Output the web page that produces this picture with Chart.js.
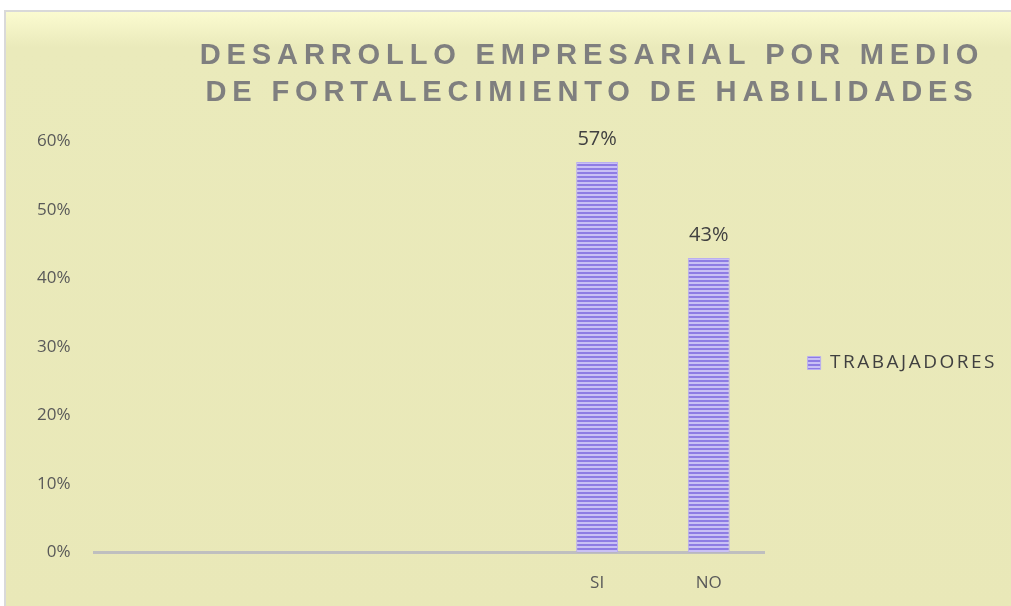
<!DOCTYPE html>
<html>
<head>
<meta charset="utf-8">
<script src="https://cdn.jsdelivr.net/npm/chart.js@4"></script>
<style>
  html, body { margin: 0; padding: 0; background: #ffffff; }
  #frame {
    position: absolute; left: 4px; top: 10px; width: 1020px; height: 610px;
    border: 2px solid #d9d9d9; box-sizing: border-box;
    background: linear-gradient(#fbfbd0 0px, #eaeabb 35px, #e9e8b8 100%);
  }
  #wrap { position: absolute; left: 0; top: 0; width: 1011px; height: 606px; }
</style>
</head>
<body>
<div id="frame"></div>
<div id="wrap"><canvas id="chart-canvas" width="1011" height="606"></canvas></div>
<script>
var categories = ['', '', '', '', 'SI', 'NO']
var trabajadores = [null, null, null, null, 57, 43]
var yTicks = [0, 10, 20, 30, 40, 50, 60]
var titleLines = ['DESARROLLO EMPRESARIAL POR MEDIO', 'DE FORTALECIMIENTO DE HABILIDADES']

// striped fill like the original bars
function make_stripes() {
    var c = document.createElement('canvas')
    c.width = 4
    c.height = 4
    var g = c.getContext('2d')
    g.fillStyle = '#8e7ce4'
    g.fillRect(0, 0, 4, 2)
    g.fillStyle = '#c9c0f5'
    g.fillRect(0, 2, 4, 2)
    return g.createPattern(c, 'repeat')
}

// wrap a layout box draw: letter spacing, horizontal squeeze around a centre, offsets
function wrap_box(box, o) {
    if (!box || box._wrapped) return
    var orig = box.draw
    box.draw = function () {
        var ctx = this.ctx
        var r = this.right
        ctx.save()
        ctx.letterSpacing = o.spacing
        if (o.sx) {
            var cx = (this.left + this.right) / 2
            ctx.translate(o.cx, 0)
            ctx.scale(o.sx, 1)
            ctx.translate(-cx, 0)
        }
        ctx.translate(o.dx || 0, o.dy || 0)
        if (o.extraRight) this.right = r + o.extraRight
        orig.apply(this, arguments)
        this.right = r
        ctx.restore()
    }
    box._wrapped = true
}

var spacedText = {
    id: 'spacedText',
    beforeDraw: function (chart) {
        wrap_box(chart.titleBlock, { spacing: '6px', sx: 0.97, cx: 592 })
        wrap_box(chart.legend, { spacing: '2.5px', dy: 48, extraRight: 60 })
        wrap_box(chart.scales.y, { spacing: '1.5px' })
        wrap_box(chart.scales.x, { spacing: '1px' })
    }
}

// value labels above the bars
var valueLabels = {
    id: 'valueLabels',
    afterDatasetsDraw: function (chart) {
        var ctx = chart.ctx
        var meta = chart.getDatasetMeta(0)
        ctx.save()
        ctx.font = '20px "Open Sans"'
        ctx.fillStyle = '#404040'
        ctx.textAlign = 'center'
        ctx.textBaseline = 'alphabetic'
        meta.data.forEach(function (bar, i) {
            var v = trabajadores[i]
            if (v === null) return
            ctx.fillText(v + '%', bar.x, bar.y - 17)
        })
        ctx.restore()
    }
}

var ctx = document.getElementById('chart-canvas').getContext('2d')
var myChart = new Chart(ctx, {
    type: 'bar',
    data: {
        labels: categories,
        datasets: [{
            label: 'TRABAJADORES',
            data: trabajadores,
            backgroundColor: make_stripes(),
            borderColor: '#b9aef0',
            borderWidth: 1,
            categoryPercentage: 1,
            barPercentage: 0.375
        }]
    },
    options: {
        responsive: false,
        animation: false,
        layout: { padding: { top: 17, left: 13, right: 34, bottom: -7 } },
        plugins: {
            title: {
                display: true,
                text: titleLines,
                color: '#7f7f7f',
                font: { family: '"Liberation Sans"', size: 30, weight: 'bold', lineHeight: 1.24 },
                padding: { top: 20, bottom: 30 }
            },
            legend: {
                position: 'right',
                labels: {
                    color: '#404040',
                    font: { family: '"Open Sans"', size: 19 },
                    boxWidth: 13,
                    boxHeight: 13,
                    padding: 43
                }
            },
            tooltip: { enabled: false }
        },
        scales: {
            x: {
                grid: { display: false, drawTicks: false },
                border: { display: true, color: '#bfbfbf', width: 3 },
                ticks: { color: '#595959', font: { family: '"Open Sans"', size: 17 }, padding: 20 }
            },
            y: {
                min: 0,
                max: 60,
                afterBuildTicks: function (axis) {
                    axis.ticks = yTicks.map(function (v) { return { value: v } })
                },
                grid: { display: false, drawTicks: false },
                border: { display: false },
                ticks: {
                    color: '#595959',
                    font: { family: '"Open Sans"', size: 17 },
                    padding: 24,
                    callback: function (v) { return v + '%' }
                }
            }
        }
    },
    plugins: [spacedText, valueLabels]
})
</script>
</body>
</html>
